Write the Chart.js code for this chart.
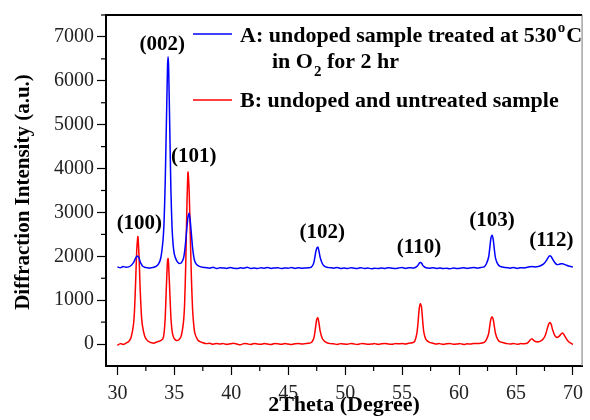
<!DOCTYPE html>
<html>
<head>
<meta charset="utf-8">
<script src="https://cdn.jsdelivr.net/npm/chart.js@4"></script>
<style>
  body { margin: 0; background: #fff; }
  #wrap { width: 590px; height: 420px; }
</style>
</head>
<body>
<div id="wrap"><canvas id="xrd"></canvas></div>
<script>
// 2theta grid (degrees) shared by both patterns
const twoTheta = [
  30.0, 30.25, 30.5, 30.75, 31.0, 31.2, 31.4, 31.5, 31.6, 31.7, 31.8, 31.9, 32.0, 32.1, 32.2, 32.4, 32.6, 32.8,
  33.0, 33.2, 33.4, 33.6, 33.8, 34.0, 34.1, 34.2, 34.3, 34.4, 34.45, 34.5, 34.6, 34.7, 34.8, 34.9, 35.0,
  35.2, 35.4, 35.6, 35.8, 35.9, 36.0, 36.1, 36.2, 36.3, 36.4, 36.5, 36.6, 36.7, 36.8, 37.0, 37.2, 37.5,
  37.8, 38.1, 38.4, 38.7, 39.0, 39.3, 39.6, 39.9, 40.2, 40.5, 40.8, 41.1, 41.4, 41.7, 42.0, 42.3,
  42.6, 42.9, 43.2, 43.5, 43.8, 44.1, 44.4, 44.7, 45.0, 45.3, 45.6, 45.9, 46.2, 46.5, 46.8,
  47.0, 47.2, 47.3, 47.4, 47.5, 47.6, 47.7, 47.8, 48.0, 48.2, 48.4, 48.7,
  49.0, 49.3, 49.6, 49.9, 50.2, 50.5, 50.8, 51.1, 51.4, 51.7, 52.0, 52.3, 52.6, 52.9, 53.2, 53.5,
  53.8, 54.1, 54.4, 54.7, 55.0, 55.3, 55.6, 55.9,
  56.1, 56.3, 56.4, 56.5, 56.6, 56.7, 56.8, 56.9, 57.1, 57.4,
  57.7, 58.0, 58.3, 58.6, 58.9, 59.2, 59.5, 59.8, 60.1, 60.4, 60.7, 61.0, 61.3, 61.6, 61.9,
  62.2, 62.4, 62.6, 62.7, 62.8, 62.9, 63.0, 63.1, 63.2, 63.4, 63.6, 63.9,
  64.2, 64.5, 64.8, 65.1, 65.4, 65.7, 66.0, 66.2, 66.4, 66.6, 66.8, 67.1, 67.4, 67.6, 67.8, 67.9,
  68.0, 68.1, 68.2, 68.4, 68.6, 68.8, 69.0, 69.1, 69.2, 69.4, 69.6, 69.8, 70.0
];

// A: undoped sample treated at 530 C in O2 for 2 hr
const intensityA = [
  1760, 1740, 1770, 1750, 1760, 1790, 1850, 1900, 1960, 2000, 2000, 1960, 1880, 1820, 1780, 1750, 1740, 1730,
  1740, 1750, 1770, 1820, 1950, 2350, 2800, 3700, 5000, 6300, 6550, 6300, 4900, 3500, 2650, 2250, 2050,
  1900, 1840, 1850, 1950, 2100, 2350, 2650, 2900, 2980, 2800, 2500, 2200, 2000, 1880, 1800, 1770, 1750,
  1740, 1730, 1750, 1720, 1740, 1735, 1725, 1745, 1730, 1720, 1740, 1730, 1750, 1725, 1735, 1720,
  1740, 1730, 1745, 1725, 1735, 1740, 1720, 1735, 1730, 1745, 1725, 1740, 1730, 1735, 1740,
  1750, 1820, 1920, 2080, 2180, 2210, 2120, 1980, 1830, 1770, 1750, 1740,
  1730, 1745, 1725, 1735, 1720, 1740, 1730, 1725, 1740, 1720, 1735, 1715, 1730, 1720, 1735, 1725,
  1740, 1730, 1720, 1735, 1745, 1725, 1740, 1735,
  1740, 1770, 1800, 1840, 1860, 1850, 1800, 1770, 1740, 1730,
  1740, 1725, 1735, 1720, 1730, 1715, 1735, 1725, 1730, 1740, 1725, 1735, 1745, 1730, 1745,
  1760, 1830, 1990, 2200, 2420, 2480, 2380, 2150, 1960, 1820, 1770, 1750,
  1740, 1730, 1745, 1725, 1740, 1735, 1750, 1760, 1770, 1760, 1760, 1780, 1820, 1880, 1960, 2000,
  2010, 1990, 1940, 1860, 1810, 1820, 1830, 1830, 1820, 1800, 1780, 1770, 1755
];

// B: undoped and untreated sample
const intensityB = [
  -30, 10, -10, 20, 60, 150, 420, 750, 1400, 2150, 2450, 2000, 1250, 700, 420, 180, 90, 50,
  30, 20, 40, 60, 80, 120, 250, 600, 1300, 1900, 1950, 1800, 1200, 600, 300, 180, 120,
  80, 100, 180, 500, 900, 1800, 3100, 3920, 3500, 2500, 1500, 800, 450, 250, 120, 60, 30,
  10, 20, -5, 15, 0, 10, -10, 5, 20, 0, -15, 10, 5, -10, 15, 0,
  -5, 10, 0, -10, 15, 5, -5, 10, 0, -10, 5, 15, 0, 10, 20,
  30, 100, 200, 380, 560, 600, 480, 300, 120, 60, 30, 10,
  5, -10, 10, 0, -5, 15, 0, -10, 10, 5, -5, 0, 10, -10, 5, 15,
  0, -5, 10, 5, 15, 0, 20, 30,
  60, 250, 500, 800, 920, 850, 550, 280, 100, 40,
  20, 0, 10, -10, 5, 15, -5, 0, 10, -10, 5, 0, 15, 10, 20,
  40, 100, 240, 420, 580, 620, 560, 400, 240, 100, 50, 30,
  10, 0, 15, -5, 10, 5, 20, 80, 120, 70, 50, 60, 120, 220, 400, 470,
  490, 440, 340, 200, 150, 180, 240, 250, 220, 130, 60, 20, -10
];

const xTicks = [30, 35, 40, 45, 50, 55, 60, 65, 70];
const yTicks = [0, 1000, 2000, 3000, 4000, 5000, 6000, 7000];

// peak indices, placed in data units
const peakNames = ['(100)', '(002)', '(101)', '(102)', '(110)', '(103)', '(112)'];
const peakLabelX = [31.93, 33.93, 36.7, 47.98, 56.48, 62.9, 68.1];
const peakLabelY = [2746, 6820, 4276, 2543, 2206, 2813, 2363];

const SERIF = '"Liberation Serif", "DejaVu Serif", serif';

const minorTicks = {
  id: 'minorTicks',
  afterDraw(chart) {
    const ctx = chart.ctx;
    const { x, y } = chart.scales;
    const area = chart.chartArea;
    ctx.save();
    ctx.strokeStyle = '#000';
    ctx.lineWidth = 1.2;
    for (let i = 0; i < xTicks.length - 1; i++) {
      const px = x.getPixelForValue((xTicks[i] + xTicks[i + 1]) / 2);
      ctx.beginPath();
      ctx.moveTo(px, area.bottom);
      ctx.lineTo(px, area.bottom + 5);
      ctx.stroke();
    }
    for (let i = 0; i < yTicks.length; i++) {
      const py = y.getPixelForValue(yTicks[i] + 500);
      ctx.beginPath();
      ctx.moveTo(area.left, py);
      ctx.lineTo(area.left - 5, py);
      ctx.stroke();
    }
    // frame on top and right
    ctx.lineWidth = 2;
    ctx.beginPath();
    ctx.moveTo(area.left, area.top);
    ctx.lineTo(area.right, area.top);
    ctx.stroke();
    ctx.lineWidth = 1;
    ctx.strokeStyle = '#777';
    ctx.beginPath();
    ctx.moveTo(area.right, area.top);
    ctx.lineTo(area.right, area.bottom);
    ctx.stroke();

    // y axis title
    ctx.translate(24, 192);
    ctx.rotate(-Math.PI / 2);
    ctx.font = 'bold 21px ' + SERIF;
    ctx.fillStyle = '#000';
    ctx.textAlign = 'center';
    ctx.textBaseline = 'middle';
    ctx.fillText('Diffraction Intensity (a.u.)', 0, 0);
    ctx.restore();
  }
};

const peakLabels = {
  id: 'peakLabels',
  afterDatasetsDraw(chart) {
    const ctx = chart.ctx;
    const { x, y } = chart.scales;
    ctx.save();
    ctx.font = 'bold 21px ' + SERIF;
    ctx.fillStyle = '#000';
    ctx.textAlign = 'center';
    ctx.textBaseline = 'middle';
    peakNames.forEach((name, i) => {
      ctx.fillText(name, x.getPixelForValue(peakLabelX[i]), y.getPixelForValue(peakLabelY[i]));
    });
    ctx.restore();
  }
};

// legend with super/subscripts drawn by hand
const sampleLegend = {
  id: 'sampleLegend',
  afterDraw(chart) {
    const ctx = chart.ctx;
    const big = 'bold 22px ' + SERIF;
    const small = 'bold 15px ' + SERIF;
    ctx.save();
    ctx.textBaseline = 'alphabetic';
    ctx.fillStyle = '#000';
    ctx.lineWidth = 1.5;

    ctx.strokeStyle = chart.data.datasets[0].borderColor;
    ctx.beginPath(); ctx.moveTo(193, 34); ctx.lineTo(232, 34); ctx.stroke();
    ctx.font = big;
    let tx = 240;
    let s = 'A: undoped sample treated at 530';
    ctx.fillText(s, tx, 42); tx += ctx.measureText(s).width + 1;
    ctx.font = small;
    ctx.fillText('o', tx, 32); tx += ctx.measureText('o').width + 1;
    ctx.font = big;
    ctx.fillText('C', tx, 42);

    tx = 272;
    s = 'in O';
    ctx.fillText(s, tx, 68); tx += ctx.measureText(s).width + 1;
    ctx.font = small;
    ctx.fillText('2', tx, 76); tx += ctx.measureText('2').width;
    ctx.font = big;
    ctx.fillText(' for 2 hr', tx, 68);

    ctx.strokeStyle = chart.data.datasets[1].borderColor;
    ctx.beginPath(); ctx.moveTo(193, 100); ctx.lineTo(232, 100); ctx.stroke();
    ctx.fillText('B: undoped and untreated sample', 240, 107);
    ctx.restore();
  }
};

new Chart(document.getElementById('xrd'), {
  type: 'line',
  data: {
    datasets: [
      {
        label: 'A: undoped sample treated at 530 oC in O2 for 2 hr',
        data: twoTheta.map((t, i) => ({ x: t, y: intensityA[i] })),
        borderColor: '#0000ff',
        borderWidth: 1.5,
        pointRadius: 0,
        tension: 0.2,
        fill: false
      },
      {
        label: 'B: undoped and untreated sample',
        data: twoTheta.map((t, i) => ({ x: t, y: intensityB[i] })),
        borderColor: '#ff0000',
        borderWidth: 1.5,
        pointRadius: 0,
        tension: 0.2,
        fill: false
      }
    ]
  },
  options: {
    responsive: true,
    maintainAspectRatio: false,
    animation: false,
    layout: { padding: { top: 11, right: 2, left: 0, bottom: 0 } },
    plugins: {
      legend: { display: false },
      tooltip: { enabled: false }
    },
    scales: {
      x: {
        type: 'linear',
        min: 29,
        max: 70.8,
        afterBuildTicks: (scale) => { scale.ticks = xTicks.map(v => ({ value: v })); },
        afterFit: (scale) => { scale.height = 54; },
        grid: { drawOnChartArea: false, drawTicks: true, tickLength: 9, tickColor: '#000', tickWidth: 1.2 },
        border: { display: true, color: '#000', width: 2 },
        ticks: { color: '#222', font: { family: SERIF, size: 20 }, padding: 7, maxRotation: 0, callback: (v) => String(v) },
        title: {
          display: true,
          text: '2Theta (Degree)',
          color: '#000',
          font: { family: SERIF, size: 22, weight: 'bold' },
          padding: { top: 0, bottom: 1 }
        }
      },
      y: {
        min: -500,
        max: 7500,
        afterBuildTicks: (scale) => { scale.ticks = yTicks.map(v => ({ value: v })); },
        afterFit: (scale) => { scale.width = 106; },
        grid: { drawOnChartArea: false, drawTicks: true, tickLength: 9, tickColor: '#000', tickWidth: 1.2 },
        border: { display: true, color: '#000', width: 2 },
        ticks: { color: '#222', font: { family: SERIF, size: 20 }, padding: 3, callback: (v) => String(v) },
        title: { display: false }
      }
    }
  },
  plugins: [minorTicks, peakLabels, sampleLegend]
});
</script>
</body>
</html>
